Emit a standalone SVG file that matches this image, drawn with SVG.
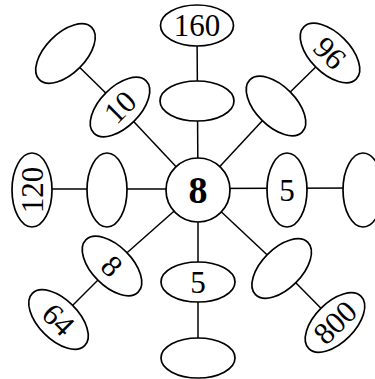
<svg xmlns="http://www.w3.org/2000/svg" width="375" height="379" viewBox="0 0 375 379">
<style>
.n{fill:#fff;stroke:#000;stroke-width:1.7}
.c line{stroke:#000;stroke-width:1.5}
.t{font-family:"Liberation Serif","Times New Roman",serif;font-size:31px;text-anchor:middle;fill:#000}
.b{font-family:"Liberation Serif","Times New Roman",serif;font-size:38px;font-weight:bold;text-anchor:middle;fill:#000}
</style>
<rect width="375" height="379" fill="#fff"/>
<g id="connectors" class="c">
<line x1="198" y1="190" x2="197" y2="25.5"/>
<line x1="198" y1="190" x2="198" y2="358"/>
<line x1="198" y1="189" x2="32" y2="189"/>
<line x1="198" y1="188.5" x2="363" y2="188"/>
<line x1="198" y1="190" x2="120" y2="107"/>
<line x1="120" y1="107" x2="65.5" y2="53.5"/>
<line x1="198" y1="190" x2="276" y2="106"/>
<line x1="276" y1="106" x2="330" y2="53"/>
<line x1="198" y1="190" x2="112" y2="266"/>
<line x1="112" y1="266" x2="58.5" y2="319.5"/>
<line x1="198" y1="190" x2="281.7" y2="268.5"/>
<line x1="281.7" y1="268.5" x2="335" y2="322.5"/>
</g>
<g id="top1"><ellipse class="n" cx="197" cy="101" rx="37" ry="20"/></g>
<g id="top2"><ellipse class="n" cx="197" cy="25.5" rx="36.5" ry="20.5"/><text class="t" x="197" y="36">160</text></g>
<g id="bottom1"><ellipse class="n" cx="198" cy="282" rx="37" ry="20"/><text class="t" x="198" y="292.5">5</text></g>
<g id="bottom2"><ellipse class="n" cx="198" cy="358" rx="37" ry="20"/></g>
<g id="left1"><ellipse class="n" cx="107" cy="190" rx="20" ry="37"/></g>
<g id="left2"><ellipse class="n" cx="32" cy="190" rx="20" ry="37"/><text class="t" transform="translate(32,190) rotate(-90)" y="10.5">120</text></g>
<g id="right1"><ellipse class="n" cx="287" cy="190" rx="20" ry="37"/><text class="t" x="287" y="200.5">5</text></g>
<g id="right2"><ellipse class="n" cx="363" cy="190" rx="20" ry="37"/></g>
<g id="ul1"><ellipse class="n" rx="37" ry="20" transform="translate(120,107) rotate(-45)"/><text class="t" transform="translate(120,107) rotate(-45)" y="10.5">10</text></g>
<g id="ul2"><ellipse class="n" rx="37" ry="20" transform="translate(65.5,53.5) rotate(-45)"/></g>
<g id="ur1"><ellipse class="n" rx="37" ry="20" transform="translate(276,106) rotate(45)"/></g>
<g id="ur2"><ellipse class="n" rx="37" ry="20" transform="translate(330,53) rotate(45)"/><text class="t" transform="translate(330,53) rotate(45)" y="10.5">96</text></g>
<g id="ll1"><ellipse class="n" rx="37" ry="20" transform="translate(112,266) rotate(45)"/><text class="t" transform="translate(112,266) rotate(45)" y="10.5">8</text></g>
<g id="ll2"><ellipse class="n" rx="37" ry="20" transform="translate(58.5,319.5) rotate(45)"/><text class="t" transform="translate(58.5,319.5) rotate(45)" y="10.5">64</text></g>
<g id="lr1"><ellipse class="n" rx="37" ry="20" transform="translate(281.7,268.5) rotate(-45)"/></g>
<g id="lr2"><ellipse class="n" rx="37" ry="20" transform="translate(335,322.5) rotate(-45)"/><text class="t" transform="translate(335,322.5) rotate(-45)" y="10.5">800</text></g>
<g id="center"><circle class="n" cx="198" cy="190" r="32"/><text class="b" x="198" y="203">8</text></g>
</svg>
